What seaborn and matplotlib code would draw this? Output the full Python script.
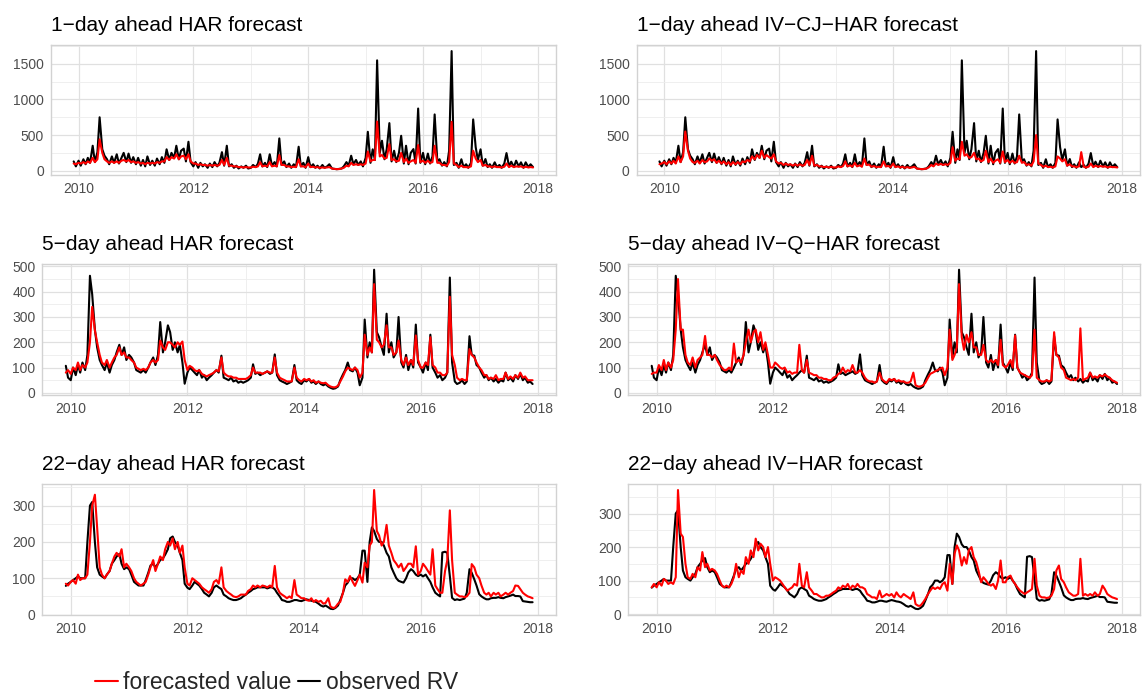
import numpy as np
import pandas as pd
import matplotlib
matplotlib.use("Agg")
import matplotlib.pyplot as plt
import matplotlib.dates as mdates
from matplotlib.lines import Line2D
from matplotlib.ticker import MultipleLocator
import seaborn as sns

# half-monthly readings, Dec 2009 - Nov 2017 (2 + 7*24 + 23 = 193 points)
dates = pd.date_range("2009-12-01", periods=193, freq="SMS")

# 1-day ahead
rv_1d = [
    130, 60,
    140, 70, 160, 90, 180, 110, 350, 120, 260, 750, 300, 210, 160, 90, 200, 110, 230, 100, 180, 250, 120, 240, 110, 190,
    90, 180, 70, 150, 60, 200, 80, 140, 70, 170, 90, 190, 110, 300, 150, 250, 180, 350, 160, 280, 310, 130, 406, 120,
    60, 120, 40, 110, 60, 90, 40, 100, 50, 120, 60, 110, 260, 70, 350, 60, 90, 40, 70, 30, 60, 40, 70, 30,
    40, 80, 50, 100, 230, 60, 110, 50, 230, 70, 120, 60, 453, 80, 130, 50, 100, 40, 90, 50, 336, 60, 110, 40,
    190, 50, 90, 40, 70, 30, 80, 40, 60, 90, 30, 25, 20, 25, 30, 60, 120, 70, 210, 90, 150, 80, 130, 60,
    180, 546, 110, 300, 150, 1550, 250, 420, 160, 300, 668, 130, 280, 120, 250, 490, 100, 350, 90, 250, 303, 100, 873, 110,
    250, 90, 240, 100, 200, 790, 130, 160, 70, 120, 60, 280, 1680, 80, 110, 40, 160, 50, 90, 40, 110, 720, 330, 150,
    300, 70, 163, 50, 90, 40, 117, 50, 80, 40, 100, 247, 60, 126, 50, 140, 60, 117, 40, 117, 50, 90, 50,
]
fc_1d_har = [
    100, 90,
    110, 100, 120, 100, 130, 110, 180, 120, 160, 440, 250, 160, 130, 110, 130, 110, 130, 110, 140, 150, 130, 150, 120, 130,
    110, 120, 100, 110, 90, 110, 100, 110, 100, 120, 110, 130, 130, 190, 150, 190, 170, 230, 160, 200, 210, 160, 230, 130,
    100, 100, 80, 90, 80, 80, 70, 80, 70, 80, 70, 80, 150, 80, 180, 70, 70, 60, 60, 50, 50, 45, 50, 45,
    45, 55, 50, 60, 120, 60, 70, 60, 120, 60, 70, 60, 220, 80, 80, 60, 60, 50, 55, 50, 160, 60, 60, 50,
    100, 50, 55, 45, 50, 40, 45, 40, 45, 50, 30, 25, 22, 22, 30, 40, 70, 60, 110, 80, 90, 80, 90, 80,
    100, 270, 130, 150, 150, 690, 200, 220, 170, 180, 374, 150, 160, 130, 140, 250, 120, 170, 110, 130, 150, 110, 360, 120,
    140, 110, 140, 110, 120, 350, 110, 110, 80, 80, 70, 120, 686, 100, 80, 50, 70, 50, 50, 45, 60, 280, 170, 120,
    150, 70, 80, 60, 60, 50, 60, 50, 50, 45, 55, 100, 50, 70, 50, 60, 55, 60, 45, 55, 45, 50, 45,
]
fc_1d_ivcj = [
    90, 100,
    120, 90, 130, 100, 140, 100, 200, 120, 200, 550, 280, 170, 120, 110, 140, 100, 150, 120, 130, 170, 140, 160, 110, 140,
    100, 130, 90, 120, 80, 120, 90, 120, 90, 130, 120, 150, 130, 200, 160, 220, 180, 280, 180, 220, 190, 170, 230, 130,
    100, 110, 80, 100, 80, 90, 70, 90, 70, 90, 70, 80, 150, 80, 210, 70, 80, 60, 60, 50, 55, 45, 55, 45,
    45, 60, 50, 65, 130, 60, 75, 55, 110, 60, 75, 55, 170, 80, 85, 55, 65, 50, 55, 50, 130, 60, 65, 50,
    100, 50, 60, 45, 55, 40, 50, 40, 45, 55, 30, 25, 22, 22, 30, 45, 80, 60, 100, 80, 95, 80, 90, 80,
    110, 330, 140, 170, 160, 406, 210, 230, 180, 190, 250, 160, 170, 130, 150, 280, 120, 170, 110, 140, 160, 110, 270, 120,
    150, 110, 140, 110, 120, 210, 110, 120, 80, 90, 70, 130, 500, 100, 80, 55, 70, 50, 55, 45, 60, 200, 170, 130,
    160, 70, 90, 60, 60, 50, 60, 260, 55, 45, 55, 100, 50, 70, 55, 65, 55, 60, 45, 55, 50, 50, 45,
]

# 5-day ahead
rv_5d = [
    107, 60,
    50, 100, 70, 110, 80, 120, 90, 150, 463, 390, 250, 180, 130, 110, 90, 120, 80, 110, 130, 160, 190, 150, 180, 130,
    150, 140, 120, 90, 85, 80, 90, 80, 100, 120, 140, 110, 150, 280, 160, 200, 267, 240, 170, 200, 160, 190, 120, 36,
    80, 100, 90, 80, 70, 90, 60, 70, 50, 60, 70, 80, 90, 80, 147, 60, 55, 50, 60, 45, 50, 40, 45, 40,
    45, 50, 60, 113, 75, 80, 70, 75, 80, 85, 75, 80, 152, 70, 50, 45, 40, 35, 40, 45, 110, 50, 40, 35,
    50, 45, 55, 40, 45, 35, 45, 35, 30, 35, 25, 20, 16, 18, 25, 50, 73, 90, 120, 90, 85, 100, 80, 30,
    60, 290, 140, 200, 160, 487, 240, 220, 180, 150, 313, 160, 200, 140, 160, 300, 120, 100, 150, 90, 130, 100, 270, 120,
    100, 80, 120, 90, 230, 100, 80, 60, 70, 50, 60, 80, 456, 120, 45, 35, 40, 50, 35, 45, 224, 150, 147, 110,
    100, 80, 60, 70, 50, 60, 45, 55, 40, 50, 45, 80, 50, 60, 45, 70, 55, 75, 50, 60, 40, 45, 35,
]
fc_5d_har = [
    80, 90,
    75, 100, 90, 120, 90, 110, 100, 120, 200, 340, 247, 200, 150, 120, 110, 130, 100, 120, 140, 150, 180, 150, 160, 140,
    140, 130, 120, 100, 95, 90, 95, 90, 100, 120, 130, 120, 130, 207, 180, 170, 200, 200, 190, 180, 200, 190, 203, 130,
    90, 107, 100, 90, 85, 90, 75, 70, 65, 70, 75, 80, 90, 85, 140, 80, 70, 65, 65, 60, 60, 55, 55, 55,
    55, 60, 70, 100, 80, 80, 80, 75, 80, 85, 80, 80, 140, 80, 60, 55, 50, 45, 45, 45, 100, 60, 50, 45,
    55, 50, 55, 45, 50, 40, 45, 40, 38, 40, 30, 25, 22, 22, 28, 45, 65, 85, 100, 95, 90, 100, 90, 60,
    80, 230, 150, 180, 160, 430, 210, 200, 180, 190, 267, 180, 180, 150, 160, 207, 130, 110, 140, 110, 130, 110, 227, 130,
    100, 100, 120, 110, 220, 110, 100, 80, 80, 70, 70, 80, 380, 150, 110, 60, 50, 55, 50, 50, 173, 150, 140, 120,
    100, 90, 70, 70, 55, 60, 55, 70, 50, 55, 55, 80, 55, 65, 55, 70, 60, 80, 60, 65, 50, 50, 50,
]
fc_5d_ivq = [
    75, 80,
    80, 110, 90, 130, 90, 120, 100, 130, 250, 450, 250, 250, 150, 120, 110, 140, 100, 130, 140, 150, 225, 150, 150, 140,
    150, 130, 110, 100, 90, 90, 100, 90, 195, 120, 130, 120, 150, 200, 250, 200, 240, 250, 200, 240, 170, 200, 150, 100,
    100, 120, 110, 100, 95, 100, 80, 85, 75, 80, 80, 190, 90, 80, 130, 80, 75, 70, 70, 60, 60, 55, 55, 50,
    50, 60, 65, 75, 80, 100, 80, 90, 85, 110, 80, 80, 90, 80, 60, 50, 45, 45, 40, 45, 80, 55, 45, 40,
    55, 50, 55, 45, 50, 45, 45, 40, 40, 45, 80, 30, 25, 25, 30, 40, 60, 75, 80, 85, 90, 95, 100, 70,
    100, 250, 130, 150, 180, 430, 220, 170, 230, 200, 240, 180, 180, 150, 150, 190, 130, 120, 130, 120, 130, 110, 210, 110,
    100, 110, 130, 100, 227, 100, 80, 75, 70, 65, 60, 70, 250, 60, 50, 45, 45, 50, 45, 50, 240, 150, 140, 100,
    90, 60, 55, 50, 55, 50, 60, 255, 50, 55, 60, 80, 60, 65, 60, 70, 65, 73, 65, 60, 50, 45, 40,
]

# 22-day ahead
rv_22d = [
    79, 85,
    90, 95, 100, 105, 100, 100, 100, 200, 300, 310, 200, 130, 110, 105, 100, 110, 120, 140, 150, 160, 167, 140, 125, 130,
    125, 110, 90, 85, 80, 80, 80, 95, 115, 135, 140, 130, 140, 150, 155, 165, 180, 210, 215, 200, 190, 170, 150, 85,
    74, 70, 80, 90, 85, 80, 70, 60, 55, 50, 60, 75, 80, 75, 70, 55, 50, 45, 42, 40, 40, 42, 45, 50,
    55, 60, 65, 70, 72, 75, 75, 75, 75, 72, 75, 75, 70, 60, 50, 40, 38, 35, 35, 37, 40, 40, 38, 37,
    40, 42, 40, 38, 37, 35, 30, 25, 22, 25, 20, 16, 15, 18, 25, 40, 60, 80, 88, 100, 100, 95, 100, 110,
    176, 176, 90, 200, 240, 230, 208, 200, 200, 190, 170, 160, 130, 116, 100, 93, 90, 88, 100, 116, 125, 120, 110, 106,
    110, 105, 110, 100, 90, 75, 60, 55, 50, 171, 173, 170, 106, 46, 40, 42, 40, 42, 44, 60, 125, 115, 97, 80,
    56, 50, 45, 42, 42, 45, 46, 46, 48, 46, 45, 48, 50, 52, 55, 51, 51, 50, 37, 36, 35, 34, 34,
]
fc_22d_har = [
    85, 80,
    90, 95, 85, 110, 95, 100, 100, 110, 200, 300, 330, 240, 130, 110, 100, 110, 120, 140, 160, 170, 160, 180, 130, 140,
    130, 120, 100, 90, 85, 80, 85, 90, 110, 130, 150, 120, 140, 160, 150, 180, 200, 190, 210, 180, 200, 170, 190, 130,
    85, 80, 100, 95, 90, 85, 75, 70, 65, 60, 70, 90, 95, 85, 130, 75, 65, 60, 55, 50, 48, 50, 55, 55,
    55, 65, 70, 80, 75, 80, 75, 80, 78, 75, 80, 75, 134, 75, 60, 55, 50, 45, 50, 45, 95, 55, 50, 45,
    45, 40, 38, 45, 35, 40, 35, 38, 30, 32, 45, 22, 18, 20, 30, 35, 60, 97, 90, 106, 90, 79, 95, 110,
    88, 143, 130, 190, 200, 343, 230, 218, 190, 200, 247, 190, 170, 150, 140, 130, 140, 120, 130, 140, 140, 130, 188, 110,
    120, 140, 130, 120, 110, 180, 80, 70, 60, 60, 120, 150, 287, 150, 60, 55, 50, 50, 48, 50, 60, 139, 130, 110,
    100, 80, 60, 55, 60, 50, 60, 55, 60, 50, 55, 60, 55, 60, 65, 80, 79, 70, 60, 55, 50, 48, 45,
]
fc_22d_iv = [
    80, 90,
    80, 95, 85, 105, 100, 90, 95, 90, 110, 370, 240, 230, 150, 110, 105, 120, 110, 140, 130, 185, 140, 150, 130, 135,
    130, 120, 100, 85, 80, 85, 80, 90, 110, 150, 110, 130, 120, 170, 150, 190, 170, 225, 190, 210, 200, 170, 200, 150,
    100, 110, 105, 100, 90, 80, 70, 75, 80, 90, 85, 150, 85, 80, 125, 80, 70, 60, 60, 55, 50, 50, 55, 55,
    60, 65, 70, 80, 75, 85, 80, 90, 75, 85, 80, 90, 80, 80, 75, 60, 55, 50, 50, 45, 70, 50, 55, 60,
    55, 60, 50, 65, 55, 50, 60, 55, 50, 45, 65, 30, 25, 25, 35, 45, 60, 70, 80, 75, 80, 75, 90, 95,
    70, 150, 90, 180, 205, 190, 145, 170, 150, 190, 200, 170, 155, 130, 95, 110, 100, 90, 85, 90, 75, 100, 160, 95,
    95, 110, 115, 100, 90, 80, 70, 65, 60, 65, 70, 75, 165, 85, 55, 50, 50, 48, 50, 55, 75, 130, 145, 105,
    95, 80, 65, 60, 55, 55, 60, 165, 55, 60, 55, 60, 55, 65, 55, 60, 85, 75, 60, 55, 50, 48, 45,
]

titles = [
    "1\u2212day ahead HAR forecast", "1\u2212day ahead IV\u2212CJ\u2212HAR forecast",
    "5\u2212day ahead HAR forecast", "5\u2212day ahead IV\u2212Q\u2212HAR forecast",
    "22\u2212day ahead HAR forecast", "22\u2212day ahead IV\u2212HAR forecast",
]

sns.set_theme(style="whitegrid")
plt.rcParams["font.family"] = ["Liberation Sans", "DejaVu Sans"]

fig = plt.figure(figsize=(11.42, 6.95), dpi=100)

# panel rectangles (left, bottom, width, height) in figure fractions
rects = [
    [0.0444, 0.748, 0.4425, 0.187], [0.5574, 0.748, 0.4410, 0.187],
    [0.0372, 0.432, 0.4496, 0.1885], [0.5503, 0.432, 0.4482, 0.1885],
    [0.0372, 0.115, 0.4496, 0.1885], [0.5503, 0.115, 0.4482, 0.1885],
]
panels = [
    (rv_1d, fc_1d_har, 500), (rv_1d, fc_1d_ivcj, 500),
    (rv_5d, fc_5d_har, 100), (rv_5d, fc_5d_ivq, 100),
    (rv_22d, fc_22d_har, 100), (rv_22d, fc_22d_iv, 100),
]

for rect, title, (obs, fc, step) in zip(rects, titles, panels):
    ax = fig.add_axes(rect)
    df = pd.DataFrame({
        "date": list(dates) * 2,
        "value": obs + fc,
        "series": ["observed RV"] * len(dates) + ["forecasted value"] * len(dates),
    })
    sns.lineplot(data=df, x="date", y="value", hue="series",
                 hue_order=["observed RV", "forecasted value"],
                 palette={"observed RV": "black", "forecasted value": "red"},
                 linewidth=1.5, legend=False, ax=ax)
    ax.set_xlabel("")
    ax.set_ylabel("")
    ax.set_facecolor("white")
    ax.xaxis.set_major_locator(mdates.YearLocator(2))
    ax.xaxis.set_minor_locator(mdates.YearLocator(1))
    ax.xaxis.set_major_formatter(mdates.DateFormatter("%Y"))
    ax.yaxis.set_major_locator(MultipleLocator(step))
    ax.yaxis.set_minor_locator(MultipleLocator(step / 2))
    ax.grid(which="major", color="#E0E0E0", linewidth=0.9)
    ax.grid(which="minor", color="#EDEDED", linewidth=0.6)
    ax.set_axisbelow(True)
    for sp in ax.spines.values():
        sp.set_visible(True)
        sp.set_color("#D2D2D2")
        sp.set_linewidth(1.0)
    ax.tick_params(which="major", length=3, width=0.8, color="#B8B8B8",
                   labelcolor="#4D4D4D", labelsize=10, pad=2)
    ax.tick_params(which="minor", length=0)
    ax.set_title(title, loc="left", fontsize=15, pad=10, color="black")

handles = [Line2D([], [], color="red", linewidth=1.5),
           Line2D([], [], color="black", linewidth=1.5)]
fig.legend(handles, ["forecasted value", "observed RV"], loc="center left",
           bbox_to_anchor=(0.083, 0.018), ncol=2, frameon=False, fontsize=16.5,
           handlelength=1.0, handletextpad=0.25, columnspacing=0.25,
           borderpad=0, borderaxespad=0)

fig.savefig("out.png", dpi=100)
